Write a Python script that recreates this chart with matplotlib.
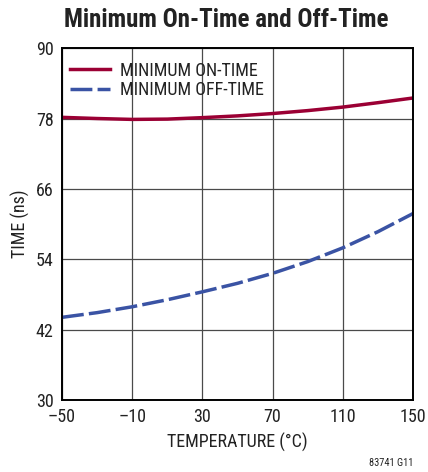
import matplotlib
matplotlib.use("Agg")
import matplotlib.pyplot as plt
import numpy as np

# temperature (°C) vs. time (ns)
temp = [-50, -30, -10, 10, 30, 50, 70, 90, 110, 130, 150]
on_time = [78.2, 78.0, 77.85, 77.9, 78.15, 78.45, 78.85, 79.35, 79.95, 80.7, 81.5]
off_time = [44.1, 44.9, 45.9, 47.1, 48.45, 49.9, 51.6, 53.6, 55.95, 58.7, 61.8]

xticks = [-50, -10, 30, 70, 110, 150]
yticks = [30, 42, 54, 66, 78, 90]

plt.rcParams['font.family'] = ['Roboto Condensed', 'DejaVu Sans']

fig = plt.figure(figsize=(4.28, 4.72), dpi=100)
ax = fig.add_axes([0.1449, 0.1525, 0.8201, 0.7455])

ax.plot(temp, on_time, color='#9b0034', lw=2.5, label='MINIMUM ON-TIME')
ax.plot(temp, off_time, color='#3a53a4', lw=2.5, dashes=(6.3, 1.5),
        label='MINIMUM OFF-TIME')

ax.set_xlim(-50, 150)
ax.set_ylim(30, 90)
ax.set_xticks(xticks)
ax.set_yticks(yticks)
ax.set_xticklabels(['\u201350', '\u201310', '30', '70', '110', '150'])
ax.tick_params(length=0, labelsize=13, pad=6, colors='#222222')
ax.grid(True, color='#4a4a4a', lw=0.9)
for s in ax.spines.values():
    s.set_linewidth(1.4)
    s.set_color('black')

ax.set_xlabel('TEMPERATURE (\u00b0C)', fontsize=13, labelpad=5, color='#222222')
ax.set_ylabel('TIME (ns)', fontsize=13, labelpad=4, color='#222222')

leg = ax.legend(loc='upper left', bbox_to_anchor=(0.0, 0.985), fontsize=13,
                frameon=False, handlelength=2.2, handletextpad=0.55,
                labelspacing=0.1, borderaxespad=0.05)
for t in leg.get_texts():
    t.set_color('#222222')

fig.text(0.528, 0.943, 'Minimum On-Time and Off-Time', ha='center',
         fontsize=18, fontweight='bold', color='#222222')
fig.text(0.965, 0.012, '83741 G11', ha='right', fontsize=7.5, color='#222222')

fig.savefig('out.png', dpi=100)
